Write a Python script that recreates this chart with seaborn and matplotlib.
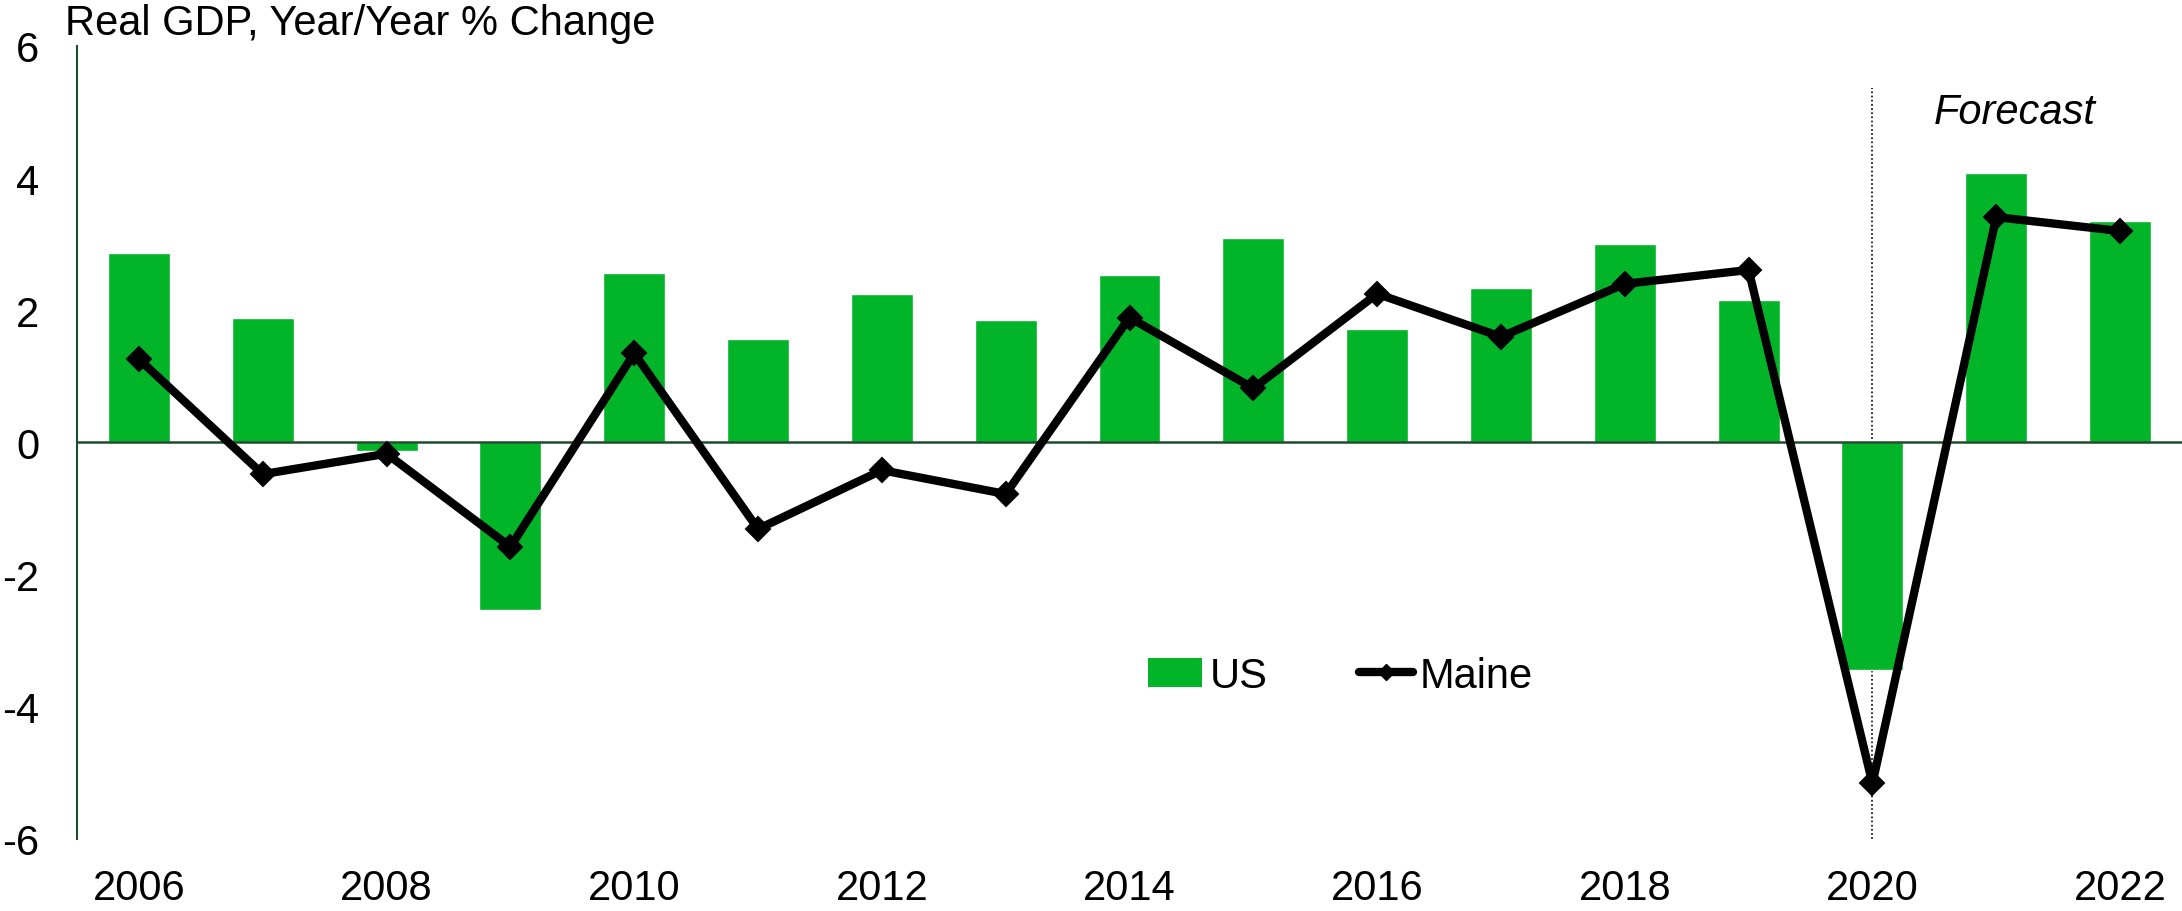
import matplotlib
matplotlib.use("Agg")
import matplotlib.pyplot as plt
import seaborn as sns
import pandas as pd
from matplotlib.lines import Line2D
from matplotlib.patches import Patch

years = [str(y) for y in range(2006, 2023)]
us = [2.86, 1.89, -0.13, -2.53, 2.57, 1.56, 2.25, 1.85, 2.53, 3.09, 1.71, 2.33, 3.01, 2.16, -3.45, 4.08, 3.35]
maine = [1.26, -0.48, -0.17, -1.58, 1.35, -1.31, -0.42, -0.78, 1.89, 0.82, 2.25, 1.60, 2.40, 2.61, -5.16, 3.41, 3.20]
tick_labels = [y if int(y) % 2 == 0 else "" for y in years]

df = pd.DataFrame({"Year": years, "US": us, "Maine": maine})

sns.set_theme(style="white")
plt.rcParams['font.family'] = ['Liberation Sans', 'DejaVu Sans']
plt.rcParams['text.color'] = 'black'

green = "#02B427"
axis_green = "#1E4D2B"
fs = 30

fig, ax = plt.subplots(figsize=(21.82, 9.12), dpi=100)
fig.subplots_adjust(left=0.0353, right=1.0, top=0.9485, bottom=0.079)

sns.barplot(data=df, x="Year", y="US", color=green, width=0.5, saturation=1, ax=ax)
sns.pointplot(data=df, x="Year", y="Maine", color="black", markers="D", markersize=9,
              linewidth=6, ax=ax)

ax.set_xlim(-0.5, len(years) - 0.5)
ax.set_ylim(-6, 6)
ax.set_yticks([-6, -4, -2, 0, 2, 4, 6])
ax.set_yticklabels(["-6", "-4", "-2", "0", "2", "4", "6"])
ax.set_xticks(range(len(years)))
ax.set_xticklabels(tick_labels)
ax.tick_params(axis="both", length=0, labelsize=fs, colors="black")
ax.tick_params(axis="x", pad=21)
ax.tick_params(axis="y", pad=27)
ax.set_xlabel("")
ax.set_ylabel("")

for s in ["top", "right", "bottom"]:
    ax.spines[s].set_visible(False)
ax.spines["left"].set_color(axis_green)
ax.spines["left"].set_linewidth(1.5)
ax.axhline(0, color=axis_green, linewidth=1.8, zorder=1.5)

idx2020 = years.index("2020")
ax.plot([idx2020, idx2020], [-6, 5.37], color="black", linestyle=(0, (1, 1.5)), linewidth=1.2, zorder=0.5)
ax.text(idx2020 + 1.15, 4.84, "Forecast", fontsize=fs, style="italic", ha="center", va="baseline")

fig.text(0.0298, 1 - 35 / 912, "Real GDP, Year/Year % Change", fontsize=fs, ha="left", va="baseline")

handles = [Patch(facecolor=green, edgecolor="none", label="US"),
           Line2D([0], [0], color="black", linewidth=6, marker="D", markersize=8, label="Maine")]
ax.legend(handles=handles, loc="center left", bbox_to_anchor=(0.491, 0.2055), ncol=2, frameon=False,
          fontsize=fs, handlelength=1.3, handletextpad=0.17, columnspacing=2.2)

fig.savefig("out.png", dpi=100)
